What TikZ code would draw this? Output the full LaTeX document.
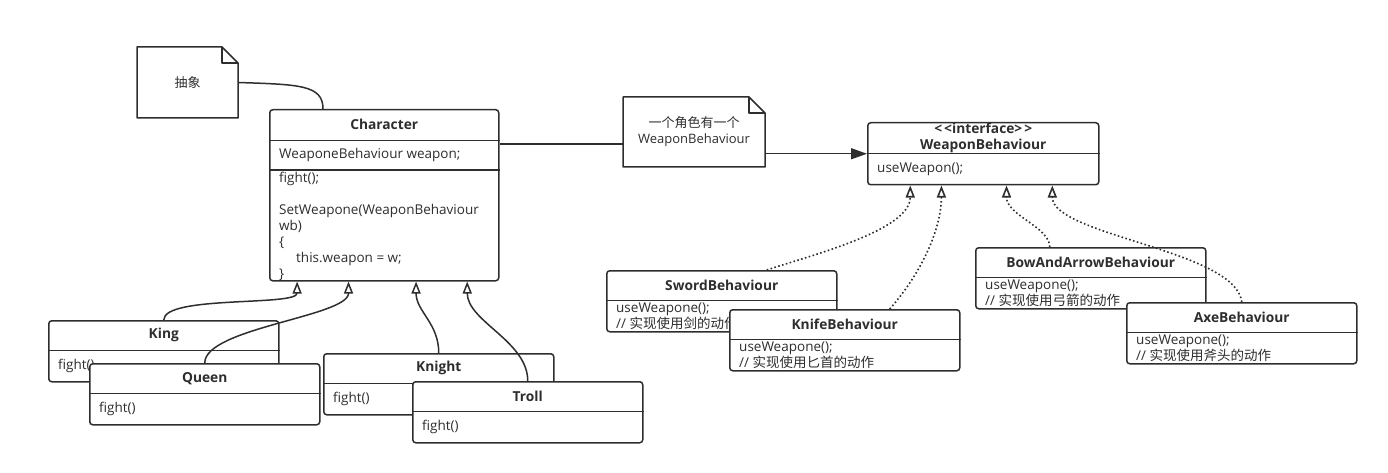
\documentclass[tikz,border=0pt]{standalone}
\usepackage{fontspec}
\setmainfont{Open Sans}
\newfontfamily\cjk{Noto Sans CJK SC}
\usetikzlibrary{positioning,calc,arrows.meta}
\definecolor{ink}{HTML}{2E2E2E}

\begin{document}
\begin{tikzpicture}[
    x=1pt, y=-1pt,
    classbox/.style={rectangle, draw=ink, line width=1.5pt, rounded corners=3pt, fill=white, minimum width=230, minimum height=61, anchor=north west, inner sep=0pt},
    title/.style={font=\bfseries\fontsize{13.75}{16}\selectfont, text=ink, minimum height=30, inner sep=0pt},
    member/.style={anchor=west, align=left, inner xsep=10pt, inner ysep=0pt, font=\fontsize{13.5}{16}\selectfont, text=ink},
    sepline/.style={draw=ink, line width=1.5pt},
    notebox/.style={anchor=north west, align=center, inner sep=0pt, outer sep=0pt, font=\fontsize{13}{16}\selectfont, text=ink},
    noteline/.style={draw=ink, line width=1.5pt, line join=round},
    inherit/.style={-{Triangle[open, width=9pt, length=12pt]}, draw=ink, line width=1.5pt},
    realize/.style={inherit, line width=1.6pt, dash pattern=on 1.6pt off 2.4pt},
    assoc/.style={-{Triangle[width=11pt, length=16pt]}, draw=ink, line width=1.5pt}
  ]
    \useasboundingbox (0,0) rectangle (1388,473);

    % notes
    \node[notebox, minimum width=101, minimum height=71] (absnote) at (137,47) {{\cjk 抽象}};
    \draw[noteline] (absnote.north west) -- ($(absnote.north east)+(-16,0)$) -- ($(absnote.north east)+(0,16)$) -- (absnote.south east) -- (absnote.south west) -- cycle;
    \draw[noteline] ($(absnote.north east)+(-16,0)$) |- ($(absnote.north east)+(0,16)$);

    \node[notebox, minimum width=142, minimum height=70] (wnote) at (623,97) {{\cjk 一个角色有一个}\\WeaponBehaviour};
    \draw[noteline] (wnote.north west) -- ($(wnote.north east)+(-16,0)$) -- ($(wnote.north east)+(0,16)$) -- (wnote.south east) -- (wnote.south west) -- cycle;
    \draw[noteline] ($(wnote.north east)+(-16,0)$) |- ($(wnote.north east)+(0,16)$);

    % Character
    \node[classbox, minimum width=229, minimum height=171] (char) at (269,109) {};
    \node[title, minimum height=31, below=0pt of char.north] (charT) {Character};
    \draw[sepline] (charT.south -| char.west) -- (charT.south -| char.east);
    \node[member, minimum height=29, anchor=north west] (charA) at (charT.south -| char.west) {WeaponeBehaviour weapon;};
    \draw[sepline] (charA.south -| char.west) -- (charA.south -| char.east);
    \node[member] (charM) at ($(charA.south -| char.west)!0.5!(char.south west)+(0,1)$) {fight();\\[16pt]
      SetWeapone(WeaponBehaviour\\
      wb)\\
      \{\\
      \hspace*{17pt}this.weapon = w;\\
      \}};

    % WeaponBehaviour interface
    \node[classbox, minimum width=231, minimum height=62] (iface) at (867,122) {};
    \node[title, minimum height=31, align=center, below=0pt of iface.north] (ifaceT) {<\kern2pt<interface>\kern2pt>\\WeaponBehaviour};
    \draw[sepline] (ifaceT.south -| iface.west) -- (ifaceT.south -| iface.east);
    \node[member] (ifaceM) at ($(ifaceT.south -| iface.west)!0.5!(iface.south west)$) {useWeapon();};

    % characters
    \node[classbox] (king) at (48,320) {};
    \node[title, below=0pt of king.north] (kingT) {King};
    \draw[sepline] (kingT.south -| king.west) -- (kingT.south -| king.east);
    \node[member] (kingM) at ($(kingT.south -| king.west)!0.5!(king.south west)$) {fight()};

    \node[classbox] (queen) at (89,363) {};
    \node[title, below=0pt of queen.north] (queenT) {Queen};
    \draw[sepline] (queenT.south -| queen.west) -- (queenT.south -| queen.east);
    \node[member] (queenM) at ($(queenT.south -| queen.west)!0.5!(queen.south west)$) {fight()};

    \node[classbox] (knight) at (323,353) {};
    \node[title, below=0pt of knight.north] (knightT) {Knight};
    \draw[sepline] (knightT.south -| knight.west) -- (knightT.south -| knight.east);
    \node[member] (knightM) at ($(knightT.south -| knight.west)!0.5!(knight.south west)$) {fight()};

    \node[classbox] (troll) at (412,381) {};
    \node[title, below=0pt of troll.north] (trollT) {Troll};
    \draw[sepline] (trollT.south -| troll.west) -- (trollT.south -| troll.east);
    \node[member] (trollM) at ($(trollT.south -| troll.west)!0.5!(troll.south west)$) {fight()};

    % behaviours
    \node[classbox] (sword) at (606,270) {};
    \node[title, below=0pt of sword.north] (swordT) {SwordBehaviour};
    \draw[sepline] (swordT.south -| sword.west) -- (swordT.south -| sword.east);
    \node[member] (swordM) at ($(swordT.south -| sword.west)!0.5!(sword.south west)$) {useWeapone();\\// {\cjk 实现使用剑的动作}};

    \node[classbox] (knife) at (729,309) {};
    \node[title, below=0pt of knife.north] (knifeT) {KnifeBehaviour};
    \draw[sepline] (knifeT.south -| knife.west) -- (knifeT.south -| knife.east);
    \node[member] (knifeM) at ($(knifeT.south -| knife.west)!0.5!(knife.south west)$) {useWeapone();\\// {\cjk 实现使用匕首的动作}};

    \node[classbox] (bow) at (975,247) {};
    \node[title, below=0pt of bow.north] (bowT) {BowAndArrowBehaviour};
    \draw[sepline] (bowT.south -| bow.west) -- (bowT.south -| bow.east);
    \node[member] (bowM) at ($(bowT.south -| bow.west)!0.5!(bow.south west)$) {useWeapone();\\// {\cjk 实现使用弓箭的动作}};

    \node[classbox] (axe) at (1126,302) {};
    \node[title, below=0pt of axe.north] (axeT) {AxeBehaviour};
    \draw[sepline] (axeT.south -| axe.west) -- (axeT.south -| axe.east);
    \node[member] (axeM) at ($(axeT.south -| axe.west)!0.5!(axe.south west)$) {useWeapone();\\// {\cjk 实现使用斧头的动作}};

    % connectors
    \draw[noteline] (absnote.east) .. controls +(62,2) and +(0,-24) .. ($(char.north west)+(54,0)$);
    \draw[sepline] ($(char.north east)+(0,35)$) -- ($(wnote.north west)+(0,47)$);
    \draw[assoc] (wnote.east |- iface.west) -- (iface.west);

    \draw[inherit] (king.north) .. controls +(0,-25) and +(0,25) .. ($(char.south west)!0.122!(char.south east)$);
    \draw[inherit] (queen.north) .. controls +(0,-35) and +(0,35) .. ($(char.south west)!0.345!(char.south east)$);
    \draw[inherit] (knight.north) .. controls +(0,-30) and +(0,30) .. ($(char.south west)!0.638!(char.south east)$);
    \draw[inherit] (troll.north) .. controls +(0,-40) and +(0,40) .. ($(char.south west)!0.86!(char.south east)$);

    \draw[realize] ($(sword.north)+(45,0)$) .. controls +(45,-15) and +(0,45) .. ($(iface.south west)!0.186!(iface.south east)$);
    \draw[realize] ($(knife.north)+(45,0)$) .. controls +(35,-40) and +(0,40) .. ($(iface.south west)!0.32!(iface.south east)$);
    \draw[realize] ($(bow.north)+(-41,0)$) .. controls +(0,-20) and +(0,30) .. ($(iface.south west)!0.60!(iface.south east)$);
    \draw[realize] (axe.north) .. controls +(-6,-52) and +(0,50) .. ($(iface.south west)!0.797!(iface.south east)$);
  \end{tikzpicture}
\end{document}
